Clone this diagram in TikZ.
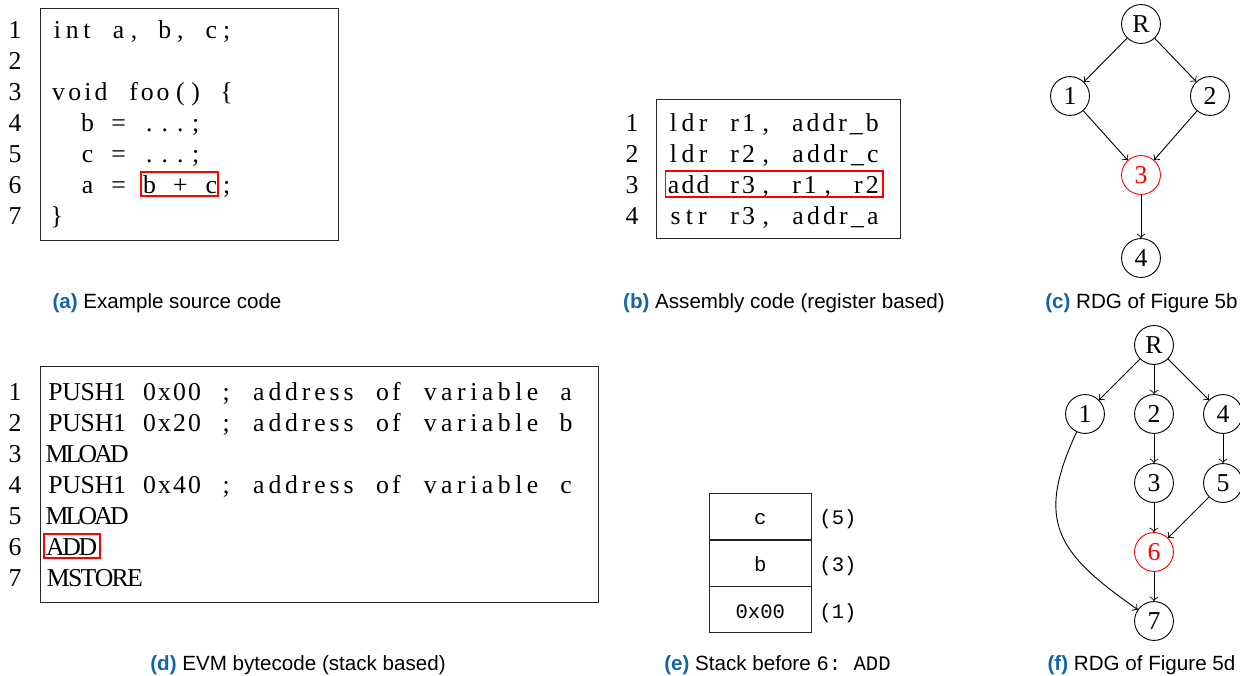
\documentclass[tikz,border=0pt]{standalone}
\usepackage{fontspec}
\setmainfont{Liberation Serif}
\setsansfont{Liberation Sans}
\setmonofont{Liberation Mono}
\definecolor{capblue}{RGB}{20,100,170}
\ExplSyntaxOn
\dim_new:N \l_cw_dim
\dim_set:Nn \l_cw_dim {6pt}
\cs_new:Npn \cw_item:n #1
  { \hbox_to_wd:nn { \tl_count:n {#1} \l_cw_dim } { \hss \tl_map_inline:nn {#1} { ##1 \hss } } }
\NewDocumentCommand \code { m } { \tl_map_function:nN {#1} \cw_item:n }
\ExplSyntaxOff
\newcommand\lab[1]{{\bfseries\color{capblue}(#1)}}
\tikzset{
  codeline/.style={anchor=base west, inner sep=0pt, font=\fontsize{10}{12}\selectfont},
  lnum/.style={anchor=base east, inner sep=0pt, font=\fontsize{10}{12}\selectfont},
  frame/.style={draw=black!85, line width=0.3pt},
  hilite/.style={draw=red, line width=0.4pt},
  caption/.style={anchor=base, inner sep=0pt, font=\sffamily\fontsize{8}{9.6}\selectfont},
  vtx/.style={draw, circle, minimum size=15.1pt, inner sep=0pt, line width=0.35pt, font=\fontsize{10}{12}\selectfont},
  hvtx/.style={vtx, draw=red, text=red},
  cell/.style={draw=black!85, line width=0.3pt, minimum width=39.9pt, minimum height=17.86pt, inner sep=0pt, text height=6.5pt, text depth=0pt, font=\ttfamily\fontsize{8}{9.6}\selectfont},
  slab/.style={anchor=west, inner sep=2.67pt, text height=6.5pt, text depth=0pt, font=\ttfamily\fontsize{8}{9.6}\selectfont},
  edge/.style={->, line width=0.35pt},
}
\begin{document}
\begin{tikzpicture}[x=0.38835pt, y=-0.38835pt]
\useasboundingbox (0,0) rectangle (1240,675);

% ---------- (a) source code ----------
\draw[frame] (40,8) rectangle (338,240);
\foreach \i in {1,...,7} {
  \node[lnum] (an\i) at (22,{38+31*(\i-1)}) {\i};
}
\node[codeline] (a1) at (48.5,38)  {\code{{int}~{a},~{b},~{c};}};
\node[codeline] (a3) at (48.5,100) {\code{{void}~{foo}()~\{}};
\node[codeline] (a4) at (48.5,131) {\code{~~{b}~=~...;}};
\node[codeline] (a5) at (48.5,162) {\code{~~{c}~=~...;}};
\node[codeline] (a6) at (48.5,193) {\code{~~{a}~=~{b}~+~{c};}};
\node[codeline] (a7) at (48.5,224) {\code{\}}};
\draw[hilite] (141,172) rectangle (218,196);
\node[caption] (capa) at (167,308) {\lab{a} Example source code};

% ---------- (b) assembly ----------
\draw[frame] (656,99) rectangle (900,238);
\foreach \i in {1,...,4} {
  \node[lnum] (bn\i) at (639,{131+31*(\i-1)}) {\i};
}
\node[codeline] (b1) at (665,131) {\code{{ldr}~{r1},~{addr\_b}}};
\node[codeline] (b2) at (665,162) {\code{{ldr}~{r2},~{addr\_c}}};
\node[codeline] (b3) at (665,193) {\code{{add}~{r3},~{r1},~{r2}}};
\node[codeline] (b4) at (665,224) {\code{{str}~{r3},~{addr\_a}}};
\draw[hilite] (665.5,171) rectangle (883,197);
\node[caption] (capb) at (784,308) {\lab{b} Assembly code (register based)};

% ---------- (c) RDG ----------
\node[vtx]  (cR) at (1141,24) {R};
\node[vtx]  (c1) at (1070,96) {1};
\node[vtx]  (c2) at (1210,96) {2};
\node[hvtx] (c3) at (1141,175) {3};
\node[vtx]  (c4) at (1141,258) {4};
\draw[edge] (cR) -- (c1);
\draw[edge] (cR) -- (c2);
\draw[edge] (c1) -- (c3);
\draw[edge] (c2) -- (c3);
\draw[edge] (c3) -- (c4);
\node[caption] (capc) at (1141.5,308) {\lab{c} RDG of Figure 5b};

% ---------- (d) EVM bytecode ----------
\draw[frame] (40,366) rectangle (598,602);
\foreach \i in {1,...,7} {
  \node[lnum] (dn\i) at (22,{400+31*(\i-1)}) {\i};
}
\node[codeline] (d1) at (48,400) {\code{{PUSH1}~{0x00}~;~{address}~{of}~{variable}~{a}}};
\node[codeline] (d2) at (48,431) {\code{{PUSH1}~{0x20}~;~{address}~{of}~{variable}~{b}}};
\node[codeline] (d3) at (48,462) {\code{{MLOAD}}};
\node[codeline] (d4) at (48,493) {\code{{PUSH1}~{0x40}~;~{address}~{of}~{variable}~{c}}};
\node[codeline] (d5) at (48,524) {\code{{MLOAD}}};
\node[codeline] (d6) at (48,555) {\code{{ADD}}};
\node[codeline] (d7) at (48,586) {\code{{MSTORE}}};
\draw[hilite] (44,534) rectangle (100,558);
\node[caption] (capd) at (298,670) {\lab{d} EVM bytecode (stack based)};

% ---------- (e) stack ----------
\node[cell] (s1) at (760.3,516.3) {c};
\node[cell, anchor=north] (s2) at (s1.south) {b};
\node[cell, anchor=north] (s3) at (s2.south) {0x00};
\node[slab] (l1) at (s1.east) {(5)};
\node[slab] (l2) at (s2.east) {(3)};
\node[slab] (l3) at (s3.east) {(1)};
\node[caption] (cape) at (777.5,670) {\lab{e} Stack before \texttt{6:~ADD}};

% ---------- (f) RDG ----------
\node[vtx]  (fR) at (1154,345) {R};
\node[vtx]  (f1) at (1085,414) {1};
\node[vtx]  (f2) at (1154,414) {2};
\node[vtx]  (f4) at (1223,414) {4};
\node[vtx]  (f3) at (1154,483) {3};
\node[vtx]  (f5) at (1223,483) {5};
\node[hvtx] (f6) at (1154,552) {6};
\node[vtx]  (f7) at (1154,621) {7};
\draw[edge] (fR) -- (f1);
\draw[edge] (fR) -- (f2);
\draw[edge] (fR) -- (f4);
\draw[edge] (f2) -- (f3);
\draw[edge] (f4) -- (f5);
\draw[edge] (f3) -- (f6);
\draw[edge] (f5) -- (f6);
\draw[edge] (f6) -- (f7);
\draw[edge] (f1) to[out=-115, in=145, looseness=1.35] (f7);
\node[caption] (capf) at (1141.5,670) {\lab{f} RDG of Figure 5d};
\end{tikzpicture}
\end{document}
